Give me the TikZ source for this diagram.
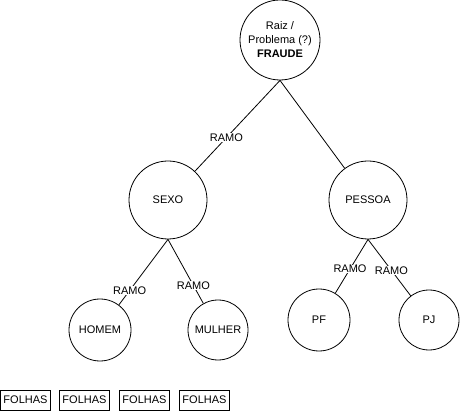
\documentclass[tikz,border=0pt]{standalone}
\usepackage{fontspec}
\setmainfont{Liberation Sans}
\begin{document}
\begin{tikzpicture}[x=1pt,y=-1pt,
  every node/.style={font=\fontsize{11}{14}\selectfont},
  circ/.style={circle,draw,line width=0.8pt,inner sep=0pt,align=center},
  edge/.style={line width=0.8pt},
  lbl/.style={fill=white,inner sep=0.5pt,font=\fontsize{11}{13}\selectfont},
  leaf/.style={draw,line width=0.8pt,minimum width=50pt,minimum height=20pt,inner sep=0pt}]
\useasboundingbox (0,0) rectangle (460,411);
\node[circ,minimum size=80pt] (root) at (280,40) {Raiz /\\Problema (?)\\\textbf{FRAUDE}};
\node[circ,minimum size=78pt] (sexo) at (168,200) {SEXO};
\node[circ,minimum size=78pt] (pessoa) at (368,200) {PESSOA};
\node[circ,minimum size=62pt] (homem) at (100,330) {HOMEM};
\node[circ,minimum size=60pt] (mulher) at (218,330) {MULHER};
\node[circ,minimum size=62pt] (pf) at (319,320) {PF};
\node[circ,minimum size=60pt] (pj) at (429,320) {PJ};
\draw[edge] (root.south) -- node[lbl,pos=0.63] {RAMO} (sexo);
\draw[edge] (root.south) -- (pessoa);
\draw[edge] (sexo.south) -- node[lbl,pos=0.78] {RAMO} (homem);
\draw[edge] (sexo.south) -- node[lbl,pos=0.72] {RAMO} (mulher);
\draw[edge] (pessoa.south) -- node[lbl,pos=0.55] {RAMO} (pf);
\draw[edge] (pessoa.south) -- node[lbl,pos=0.55] {RAMO} (pj);
\node[leaf] (f1) at (25.5,400) {FOLHAS};
\node[leaf] (f2) at (84.5,400) {FOLHAS};
\node[leaf] (f3) at (144.5,400) {FOLHAS};
\node[leaf] (f4) at (204.5,400) {FOLHAS};
\end{tikzpicture}
\end{document}
